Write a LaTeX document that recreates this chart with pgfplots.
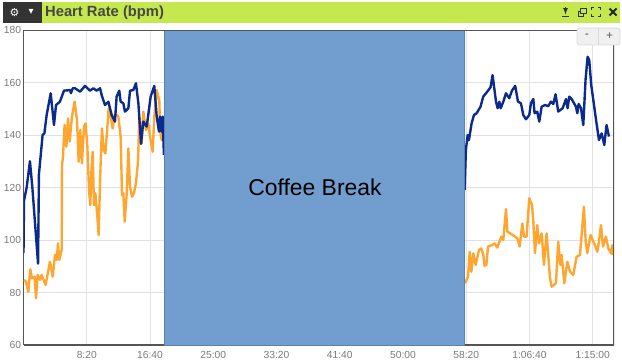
\documentclass[border=0pt]{standalone}
\usepackage{fontspec}
\setmainfont{Liberation Sans}
\newfontfamily\dejavu{DejaVu Sans}
\usepackage{pgfplots}
\pgfplotsset{compat=1.18}
\definecolor{hrblue}{HTML}{0B2A8E}
\definecolor{hrorange}{HTML}{FFA630}
\definecolor{breakfill}{HTML}{719ECE}
\definecolor{breakedge}{HTML}{5583B8}
\definecolor{lime}{HTML}{C5E84E}
\definecolor{darkbar}{HTML}{333333}
\definecolor{ticktext}{HTML}{7A7A7A}
\definecolor{gridc}{HTML}{E2E2E2}
\definecolor{frame}{HTML}{555555}
\begin{document}
\begin{tikzpicture}[x=1bp,y=1bp]
\path (0,0) rectangle (622,361);
\fill[lime] (42,338) rectangle (620,359);
\fill[darkbar] (3,338) rectangle (42,359);
\node[text=white,font=\dejavu\fontsize{11}{13}\selectfont] at (14.5,348.5) {⚙};
\node[text=white,font=\dejavu\fontsize{10}{12}\selectfont] at (31,349) {▾};
\node[anchor=west,inner sep=0pt,text=darkbar!90,font=\bfseries\fontsize{14.8}{17}\selectfont] at (45,348.5) {Heart Rate (bpm)};
% window icons
\draw[darkbar,line width=1.1pt] (562,344.5) -- (569,344.5);
\draw[darkbar,line width=1.2pt,-{latex}] (565.5,354) -- (565.5,346.5);
\draw[darkbar,line width=0.9pt] (578,344.5) rectangle (583,350);
\draw[darkbar,line width=0.9pt,fill=lime] (580.5,347.5) rectangle (586,353);
\foreach \sx/\sy in {1/1,1/-1,-1/1,-1/-1}
  \draw[darkbar,line width=0.9pt] ({596+\sx*4.5},{349+\sy*1.8}) -- ({596+\sx*4.5},{349+\sy*4.5}) -- ({596+\sx*1.8},{349+\sy*4.5});
\draw[black!85,line width=2pt] (609.5,345.5) -- (616.5,352.5) (609.5,352.5) -- (616.5,345.5);
\begin{axis}[at={(23.5bp,16bp)},anchor=south west,scale only axis,width=590.5bp,height=315bp,
 xmin=0,xmax=4668,ymin=60,ymax=180,
 axis y line*=left,axis x line*=bottom,
 axis line style={-,frame,line width=1.3pt},
 grid=major,grid style={gridc,line width=0.8pt},
 tick style={draw=none},
 xtick={500,1000,1500,2000,2500,3000,3500,4000,4500},
 xticklabels={8:20,16:40,25:00,33:20,41:40,50:00,58:20,1:06:40,1:15:00},
 ytick={60,80,100,120,140,160,180},
 /pgf/number format/assume math mode=true,
 tick label style={text=ticktext,font=\fontsize{10.3}{12}\selectfont},
 xticklabel style={yshift=-2.5bp},yticklabel style={xshift=1bp},
 clip=true]
\addplot[hrorange,line width=2.4pt,line join=round] table {
4 84.8
20 84.1
38 80.3
54 88.8
67 85.4
88 86
99 77.8
112 86.7
130 84.8
143 86.7
175 82.9
209 91.7
231 86
249 94.3
262 92.4
273 98.7
283 92.4
302 96.2
304 128
312 131.7
325 143.8
339 135.5
352 146.3
365 137.5
383 147
404 152.7
423 145.7
436 129.8
449 141.9
462 129.2
478 143.2
491 144.4
505 135.5
518 119
528 113.3
536 125.4
547 133.6
557 113.3
568 117.8
584 108.9
594 101.9
607 125.4
620 142.5
634 134.3
647 133
660 141
673 150.2
694 145.7
705 142.5
723 148.2
750 147
768 139.4
779 117.1
789 117.8
800 107
816 117.8
829 134.9
842 120.3
858 116.5
873 117.8
889 121.6
905 129.8
916 147
934 136.8
947 148.9
968 141.9
987 144.4
1000 139.4
1021 133.6
1034 147
1053 157.1
1074 153
1079 141.9
1092 138
1105 145.7
};
\addplot[hrorange,line width=2.4pt,line join=round] table {
3490 83.5
3514 86
3527 95.5
3540 87.9
3556 94.9
3574 90.5
3601 96.2
3619 96.8
3635 94.3
3645 90.2
3659 90.5
3672 97.5
3706 98.1
3724 98.7
3745 97.1
3777 101.3
3793 100
3814 111.8
3825 103.2
3877 101.6
3904 100.6
3922 97.5
3943 106.3
3956 101.3
3977 101.3
3998 115.9
4020 113.3
4030 107
4043 95
4061 105.7
4075 98.7
4096 102.5
4114 90.5
4135 102.5
4162 85.4
4175 82.2
4209 83.5
4227 99.4
4243 90.5
4254 94.3
4275 83.5
4299 91.7
4320 88
4346 86.7
4372 93.6
4399 94.3
4430 112.7
4444 99.4
4457 95
4483 101.9
4517 98
4536 95.5
4549 99.4
4565 105.7
4581 97.5
4604 101.3
4623 96.8
4644 95
4654 98
4657 94.3
};
\addplot[hrblue,line width=2.4pt,line join=round] table {
0 95
4 115
25 120
51 130
70 120
115 91
122 125
151 140
165 140.6
183 147.6
215 155.9
241 143.8
257 151.4
288 152.7
320 156.9
368 157.1
375 155.9
389 157.8
407 157.8
447 156.5
486 158.7
526 156.9
552 157.8
578 156.9
605 157.8
618 155.2
644 151.4
671 152.7
697 147.6
723 145.1
736 154.6
757 156.9
768 152.7
789 152.1
802 148.9
829 150.2
842 156.9
868 157.1
889 159.7
908 152.1
929 136.6
947 145.1
974 143.2
1005 154.6
1034 158.7
1053 147
1071 141.3
1079 147
1092 141.3
1100 147
1110 132.4
};
\addplot[hrblue,line width=2.4pt,line join=round] table {
3487 119
3497 134.3
3511 140
3521 138
3542 144.4
3561 147.6
3582 148.3
3613 150.8
3634 154.6
3666 156.5
3692 158.2
3708 162.8
3735 152.7
3748 150.2
3761 152.7
3772 150.2
3793 152.7
3814 155.9
3840 154
3861 156.9
3887 158.7
3909 152.7
3932 152.1
3951 147.6
3972 146
3998 147.6
4011 152.1
4030 153.7
4040 148.3
4061 148.9
4077 145.1
4096 150.8
4122 151.4
4148 151
4169 152.7
4188 151.8
4206 155.5
4227 148.9
4262 150.2
4288 153.7
4301 150.2
4314 154.6
4333 153.7
4367 150.8
4378 148.3
4388 151.8
4407 150.2
4425 143.8
4443 161
4459 169.8
4472 168.6
4488 159
4517 148.9
4530 144.4
4549 138.1
4570 140.6
4591 136.2
4609 143.8
4628 139.4
};
\addplot[fill=breakfill,draw=breakedge,line width=0.8pt] coordinates {(1113,60) (1113,180) (3483,180) (3483,60)} -- cycle;
\node[text=black,font=\fontsize{23}{27}\selectfont] at (axis cs:2304,120) {Coffee Break};
\draw[frame,line width=0.8pt] (axis cs:0,180) -- (axis cs:4668,180);
\draw[frame,line width=1.3pt] (axis cs:4668,60) -- (axis cs:4668,180);
\end{axis}
\fill[black!6,draw=black!15,line width=0.8pt,rounded corners=3pt] (577,316) rectangle (620,333);
\draw[black!15,line width=0.8pt] (598.5,316) -- (598.5,333);
\node[text=ticktext,font=\bfseries\fontsize{11}{12}\selectfont] at (587,325) {-};
\node[text=darkbar!80,font=\fontsize{12}{12}\selectfont] at (609.5,325) {+};
\end{tikzpicture}
\end{document}
